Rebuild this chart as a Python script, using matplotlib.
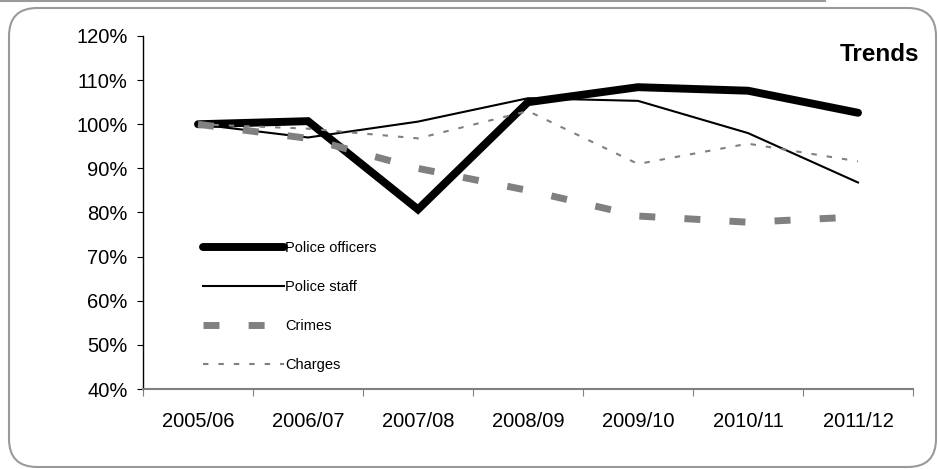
import matplotlib
matplotlib.use('Agg')
import matplotlib.pyplot as plt
from matplotlib.patches import FancyBboxPatch
from matplotlib.lines import Line2D

plt.rcParams['font.family'] = ['Liberation Sans', 'DejaVu Sans']

years = ['2005/06', '2006/07', '2007/08', '2008/09', '2009/10', '2010/11', '2011/12']
police_officers = [100.0, 100.7, 80.7, 105.0, 108.4, 107.6, 102.6]
police_staff = [100.0, 97.0, 100.6, 105.9, 105.3, 98.0, 86.8]
crimes = [100.0, 96.8, 90.0, 85.0, 79.2, 77.8, 79.0]
charges = [100.0, 99.0, 96.8, 103.0, 91.0, 95.6, 91.6]
yticks = [40, 50, 60, 70, 80, 90, 100, 110, 120]

fig = plt.figure(figsize=(9.38, 4.69), dpi=100)

# outer rounded frame and top rule
frame = FancyBboxPatch((9 / 938, 2 / 469), 927 / 938, 459 / 469,
                       boxstyle='round,pad=0,rounding_size=0.03',
                       transform=fig.transFigure, fill=False,
                       edgecolor='#9a9a9a', linewidth=1.5,
                       mutation_aspect=2.0)
fig.patches.append(frame)
fig.lines.append(Line2D([0, 825 / 938], [1 - 1 / 469, 1 - 1 / 469],
                        transform=fig.transFigure, color='#9a9a9a', lw=1.5))

ax = fig.add_axes([143 / 938, 1 - 389 / 469, 770 / 938, 353 / 469])
x = list(range(len(years)))

ax.plot(x, police_officers, color='black', lw=5.7, solid_capstyle='round',
        solid_joinstyle='miter', label='Police officers')
ax.plot(x, police_staff, color='black', lw=1.5, label='Police staff')
ax.plot(x, crimes, color='#808080', lw=5, dashes=(2.3, 4.2),
        dash_capstyle='butt', label='Crimes')
ax.plot(x, charges, color='#808080', lw=1.5, dashes=(2.6, 4.8),
        label='Charges')

ax.set_xlim(-0.5, 6.5)
ax.set_ylim(40, 120)
ax.set_yticks(yticks)
ax.set_yticklabels(['%d%%' % v for v in yticks], fontsize=14.5)
ax.set_xticks([i + 0.5 for i in range(-1, 7)])
ax.set_xticklabels([])
ax.set_xticks(x, minor=True)
ax.set_xticklabels(years, minor=True, fontsize=14.5)
ax.tick_params(axis='x', which='minor', length=0, pad=16.5)
ax.tick_params(axis='x', which='major', length=5, color='#808080', direction='out')
ax.tick_params(axis='y', length=4.5, direction='out', pad=6.5)

for s in ['top', 'right']:
    ax.spines[s].set_visible(False)
ax.spines['bottom'].set_color('#808080')
ax.spines['bottom'].set_linewidth(1.5)
ax.spines['left'].set_linewidth(1)

ax.text(1.008, 0.949, 'Trends', transform=ax.transAxes, ha='right', va='center',
        fontsize=17.5, fontweight='bold')

leg = ax.legend(loc='upper left', bbox_to_anchor=(0.078, 0.418), frameon=False,
                fontsize=10.5, handlelength=5.55, handletextpad=0.1,
                labelspacing=1.7, borderpad=0, borderaxespad=0)

fig.savefig('out.png', dpi=100)
